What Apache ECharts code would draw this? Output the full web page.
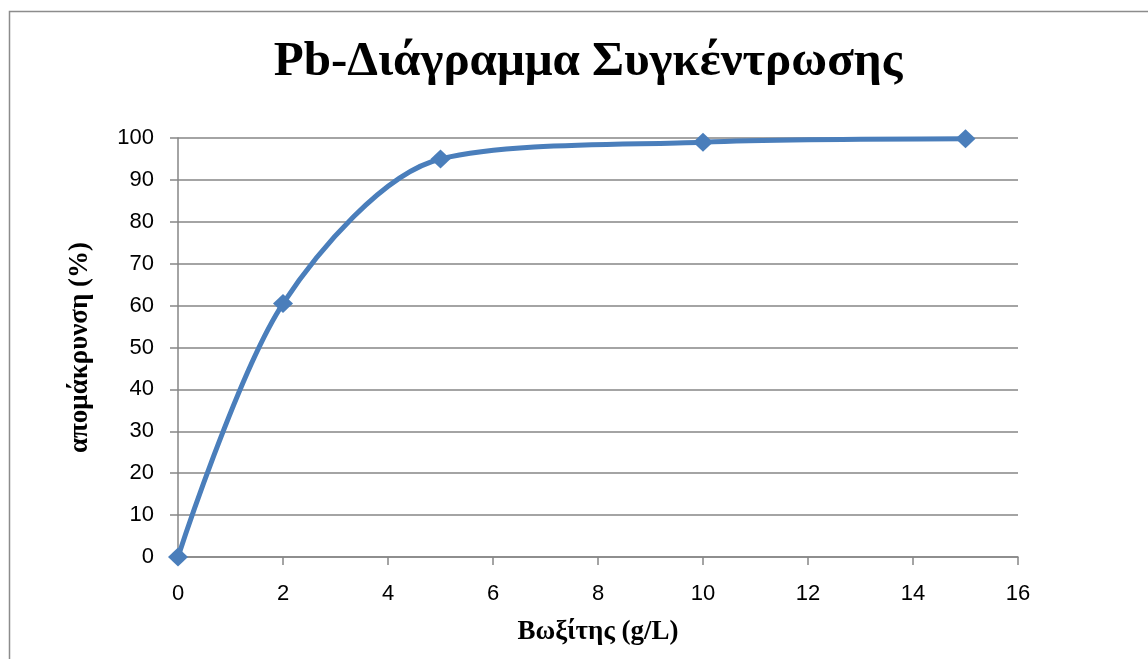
<!DOCTYPE html>
<html>
<head>
<meta charset="utf-8">
<script src="https://cdn.jsdelivr.net/npm/echarts@6/dist/echarts.min.js"></script>
<style>
  html, body { margin: 0; padding: 0; background: #fff; }
  #chart { width: 1148px; height: 659px; }
</style>
</head>
<body>
<div id="chart"></div>
<script>
// data
const bauxite = [0, 2, 5, 10, 15];          // g/L
const removal = [0, 60.5, 95, 99, 99.8];    // %
const titleText = 'Pb-Διάγραμμα Συγκέντρωσης';
const xName = 'Βωξίτης (g/L)';
const yName = 'απομάκρυνση (%)';

const gridGrey = '#868686';
const lineBlue = '#4a7ebb';
const serif = '"Liberation Serif", "DejaVu Serif", serif';
const sans = '"Liberation Sans", "DejaVu Sans", sans-serif';

const chart = echarts.init(document.getElementById('chart'));

chart.setOption({
  animation: false,
  backgroundColor: '#fff',
  graphic: [{
    type: 'rect',
    shape: { x: 9.5, y: 11.5, width: 1300, height: 800 },
    style: { fill: 'none', stroke: '#8c8c8c', lineWidth: 1.5 },
    silent: true
  }],
  title: {
    text: titleText,
    left: 583,
    top: 33,
    textAlign: 'center',
    textStyle: { fontFamily: serif, fontWeight: 'bold', fontSize: 49, color: '#000' }
  },
  grid: { left: 178, right: 130, top: 138, bottom: 102 },
  xAxis: {
    type: 'value',
    min: 0, max: 16, interval: 2,
    name: xName,
    nameLocation: 'middle',
    nameGap: 62,
    nameTextStyle: { fontFamily: serif, fontWeight: 'bold', fontSize: 27, color: '#000' },
    axisLine: { show: true, lineStyle: { color: gridGrey, width: 1.5 } },
    axisTick: { show: true, length: 8, lineStyle: { color: gridGrey, width: 1.5 } },
    axisLabel: { margin: 26, fontFamily: sans, fontSize: 22, color: '#000' },
    splitLine: { show: false }
  },
  yAxis: {
    type: 'value',
    min: 0, max: 100, interval: 10,
    name: yName,
    nameLocation: 'middle',
    nameGap: 84,
    nameTextStyle: { fontFamily: serif, fontWeight: 'bold', fontSize: 27, color: '#000' },
    axisLine: { show: true, lineStyle: { color: gridGrey, width: 1.5 } },
    axisTick: { show: true, length: 8, lineStyle: { color: gridGrey, width: 1.5 } },
    axisLabel: { margin: 24, fontFamily: sans, fontSize: 22, color: '#000' },
    splitLine: { show: true, lineStyle: { color: gridGrey, width: 1.5 } }
  },
  series: [{
    type: 'line',
    data: bauxite.map((x, i) => [x, removal[i]]),
    smooth: 0.3,
    symbol: 'diamond',
    symbolSize: [20, 19],
    itemStyle: { color: lineBlue },
    lineStyle: { color: lineBlue, width: 5 }
  }]
});
</script>
</body>
</html>
